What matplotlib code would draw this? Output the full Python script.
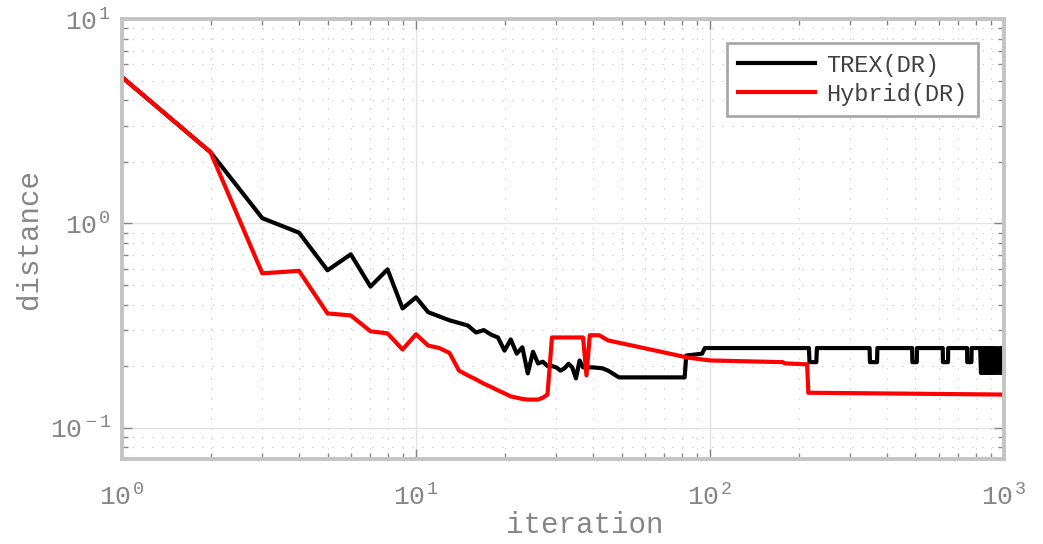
import numpy as np
import matplotlib
matplotlib.use("Agg")
import matplotlib.pyplot as plt
from matplotlib.ticker import LogLocator, FuncFormatter, NullFormatter

plt.rcParams['font.family'] = ['Liberation Mono', 'DejaVu Sans Mono']
plt.rcParams['mathtext.fontset'] = 'custom'
plt.rcParams['mathtext.rm'] = 'Liberation Mono'
plt.rcParams['mathtext.it'] = 'Liberation Mono'

# TREX(DR) distance per iteration
trex_it = [1, 2, 3, 4, 5, 6, 7, 8, 9, 10, 11, 12, 13, 14, 15, 16, 17, 18, 19, 20,
           21, 22, 23, 24, 25, 26, 27, 28, 29, 30, 31, 32, 33, 34, 35, 36, 37, 38,
           40, 43, 45, 49, 82, 83, 94, 96,
           217, 218, 230, 231, 349, 350, 370, 371, 487, 488, 505, 506,
           619, 620, 645, 646, 749, 750, 775, 776,
           830, 835, 842, 848, 855, 862, 870, 878, 886, 894, 903, 912,
           921, 930, 940, 950, 960, 970, 980, 990, 1000]
trex_val = [5.2, 2.23, 1.06, 0.90, 0.589, 0.705, 0.49, 0.595, 0.383, 0.434, 0.367,
            0.35, 0.335, 0.325, 0.316, 0.292, 0.30, 0.285, 0.276, 0.238,
            0.27, 0.23, 0.247, 0.184, 0.235, 0.206, 0.21, 0.20, 0.20, 0.197,
            0.19, 0.195, 0.205, 0.197, 0.174, 0.213, 0.197, 0.197,
            0.197, 0.195, 0.19, 0.176, 0.176, 0.225, 0.23, 0.245,
            0.245, 0.209, 0.209, 0.245, 0.245, 0.209, 0.209, 0.245,
            0.245, 0.209, 0.209, 0.245, 0.245, 0.209, 0.209, 0.245,
            0.245, 0.209, 0.209, 0.245,
            0.245, 0.185, 0.245, 0.185, 0.245, 0.185, 0.245, 0.185, 0.245, 0.185,
            0.245, 0.185, 0.245, 0.185, 0.245, 0.185, 0.245, 0.185, 0.245, 0.185,
            0.245]

# Hybrid(DR)
hyb_it = [1, 2, 3, 4, 5, 6, 7, 8, 9, 10, 11, 12, 13, 14, 15, 16, 17, 18, 19, 20,
          21, 22, 23, 24, 25, 26, 27, 28, 29, 37, 38, 39, 42, 45, 58, 84, 100,
          177, 180, 214, 216, 1000]
hyb_val = [5.2, 2.23, 0.569, 0.585, 0.362, 0.354, 0.296, 0.289, 0.241, 0.286,
           0.252, 0.245, 0.232, 0.19, 0.18, 0.172, 0.164, 0.158, 0.152, 0.147,
           0.142, 0.14, 0.138, 0.137, 0.137, 0.137, 0.14, 0.145, 0.276, 0.276,
           0.18, 0.283, 0.283, 0.267, 0.247, 0.22, 0.213, 0.209, 0.206, 0.204,
           0.148, 0.145]

grey = '#858585'

fig = plt.figure(figsize=(10.43, 5.44), dpi=100)
ax = fig.add_axes([0.117, 0.156, 0.8456, 0.8088])

ax.plot(trex_it, trex_val, '-', color='black', linewidth=3, label='TREX(DR)')
ax.plot(hyb_it, hyb_val, '-', color='red', linewidth=3, label='Hybrid(DR)')

ax.set_xscale('log')
ax.set_yscale('log')
ax.set_xlim(1, 1000)
ax.set_ylim(0.07, 10)

ax.xaxis.set_major_locator(LogLocator(base=10, numticks=10))
ax.yaxis.set_major_locator(LogLocator(base=10, numticks=10))
ax.xaxis.set_minor_locator(LogLocator(base=10, subs=np.arange(2, 10), numticks=20))
ax.yaxis.set_minor_locator(LogLocator(base=10, subs=np.arange(2, 10), numticks=20))
fmt = FuncFormatter(lambda v, p: r'$\mathregular{10^{\,%d}}$' % round(np.log10(v)))
ax.xaxis.set_major_formatter(fmt)
ax.yaxis.set_major_formatter(fmt)
ax.xaxis.set_minor_formatter(NullFormatter())
ax.yaxis.set_minor_formatter(NullFormatter())

ax.grid(True, which='major', color='#E2E2E2', linestyle='-', linewidth=1)
ax.grid(True, which='minor', color='#BDBDBD', linestyle=(0, (1, 8)), linewidth=0.8)
ax.set_axisbelow(True)

for s in ax.spines.values():
    s.set_color('#C4C4C4')
    s.set_linewidth(2.8)

ax.tick_params(which='both', direction='in', top=True, right=True, color=grey,
               labelcolor=grey, labelsize=19)
ax.tick_params(which='major', length=7, width=1)
ax.tick_params(which='minor', length=4, width=1)
ax.tick_params(axis='x', pad=18)
ax.tick_params(axis='y', pad=8)

ax.set_xlabel('iteration', fontsize=21, color=grey)
ax.set_ylabel('distance', fontsize=21, color=grey)
ax.xaxis.set_label_coords(0.525, -0.118)
ax.yaxis.set_label_coords(-0.09, 0.5)

leg = ax.legend(loc='upper right', bbox_to_anchor=(0.9705, 0.9455), fontsize=17,
                handlelength=3.3, handletextpad=0.45, labelspacing=0.25,
                borderpad=0.45, borderaxespad=0, fancybox=False, framealpha=1)
leg.get_frame().set_edgecolor('#A8A8A8')
leg.get_frame().set_linewidth(2)
for t in leg.get_texts():
    t.set_color('#404040')

fig.savefig('out.png', dpi=100)
